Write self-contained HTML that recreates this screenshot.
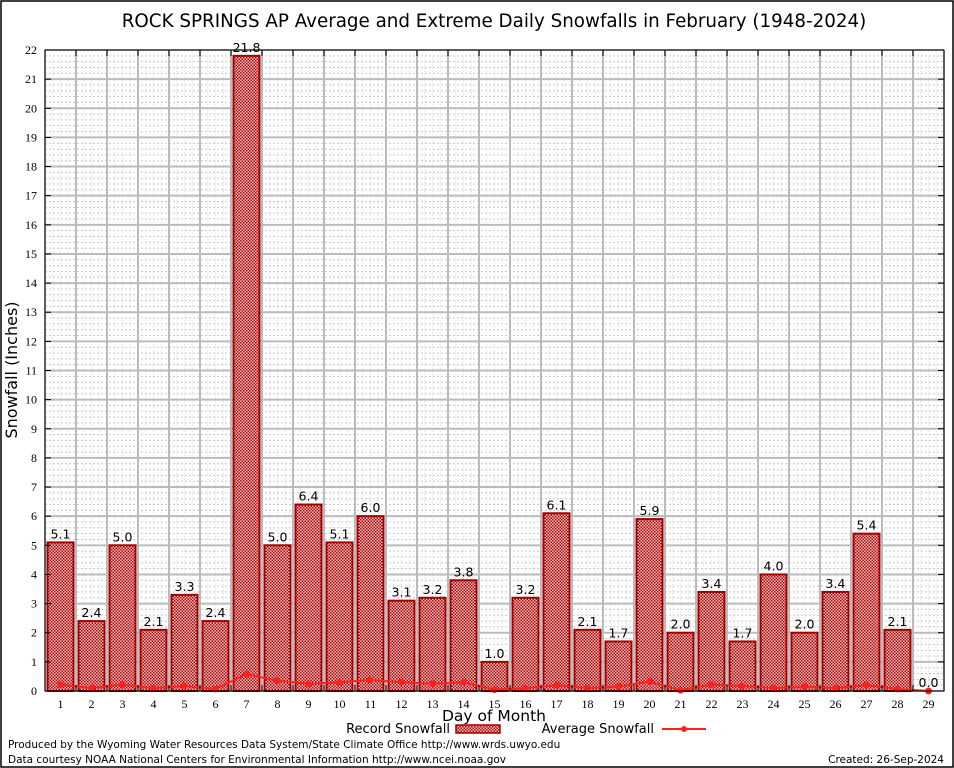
<!DOCTYPE html>
<html><head><meta charset="utf-8"><style>
body{margin:0;background:#fff;}
svg{display:block;font-family:"DejaVu Sans","Liberation Sans",sans-serif;}
</style></head><body>
<svg id="chart" width="954" height="768">
<defs>
<pattern id="chk" width="3" height="3" patternUnits="userSpaceOnUse">
<rect width="3" height="3" fill="#f0c8c8"/>
<rect width="1.5" height="1.5" fill="#b80000"/>
<rect x="1.5" y="1.5" width="1.5" height="1.5" fill="#b80000"/>
</pattern>
</defs>
<rect x="1" y="1" width="952" height="766" fill="#fff" stroke="#000" stroke-width="1.5"/>
<text x="494" y="27" font-size="18.3" text-anchor="middle">ROCK SPRINGS AP Average and Extreme Daily Snowfalls in February (1948-2024)</text>
<g id="grid"></g>
<g id="bars"></g>
<g id="avg"></g>
<rect x="45" y="50" width="899" height="641" fill="none" stroke="#000" stroke-width="1"/>
<g id="axes"></g>
<text x="17" y="370" font-size="16" text-anchor="middle" transform="rotate(-90 17 370)">Snowfall (Inches)</text>
<text x="494" y="721" font-size="15.5" text-anchor="middle">Day of Month</text>
<g>
<text x="450" y="733" font-size="13" text-anchor="end">Record Snowfall</text>
<rect x="456" y="725" width="44" height="8" fill="url(#chk)" stroke="#a00000" stroke-width="1.5"/>
</g>
<g>
<text x="654" y="733" font-size="13" text-anchor="end">Average Snowfall</text>
<line x1="662" y1="729" x2="706" y2="729" stroke="#ff2020" stroke-width="2"/>
<circle cx="684" cy="729" r="3" fill="#ff2020"/>
</g>
<text x="8" y="748" font-size="10.5">Produced by the Wyoming Water Resources Data System/State Climate Office http://www.wrds.uwyo.edu</text>
<text x="8" y="763" font-size="10.5">Data courtesy NOAA National Centers for Environmental Information http://www.ncei.noaa.gov</text>
<text x="944" y="763" font-size="10.5" text-anchor="end">Created: 26-Sep-2024</text>
</svg>
<script>
const days=[1,2,3,4,5,6,7,8,9,10,11,12,13,14,15,16,17,18,19,20,21,22,23,24,25,26,27,28,29];
const records=[5.1,2.4,5.0,2.1,3.3,2.4,21.8,5.0,6.4,5.1,6.0,3.1,3.2,3.8,1.0,3.2,6.1,2.1,1.7,5.9,2.0,3.4,1.7,4.0,2.0,3.4,5.4,2.1,0.0];
const averages=[0.22,0.1,0.22,0.1,0.17,0.07,0.58,0.35,0.25,0.3,0.38,0.3,0.25,0.3,0.05,0.1,0.2,0.1,0.15,0.32,0.03,0.22,0.17,0.1,0.15,0.1,0.2,0.07,0.0];
const yTicks=[0,1,2,3,4,5,6,7,8,9,10,11,12,13,14,15,16,17,18,19,20,21,22];
const NS="http://www.w3.org/2000/svg";
const L=45,R=944,T=50,B=691,YMAX=22;
const step=(R-L)/days.length;
function xs(d){return L+(d-0.5)*step;}
function ys(v){return B-(v/YMAX)*(B-T);}
function mk(tag,attrs,parent){const e=document.createElementNS(NS,tag);for(const k in attrs)e.setAttribute(k,attrs[k]);parent.appendChild(e);return e;}
const grid=document.getElementById('grid'),bars=document.getElementById('bars'),avg=document.getElementById('avg'),axes=document.getElementById('axes');
for(let v=0.2;v<YMAX;v+=0.2){
 mk('line',{x1:L,x2:R,y1:ys(v),y2:ys(v),stroke:'#c8c8c8','stroke-width':1,'stroke-dasharray':'2,2'},grid);
}
for(let i=0;i<days.length;i++){
 for(let f=1;f<4;f++){const x=L+i*step+f*step/4;mk('line',{x1:x,x2:x,y1:T,y2:B,stroke:'#dcdcdc','stroke-width':1,'stroke-dasharray':'1,2'},grid);}
}
yTicks.forEach(v=>{
 const l=mk('line',{x1:L,x2:R,y1:ys(v),y2:ys(v),stroke:'#bbb','stroke-width':2},grid);
 
 
 const t=mk('text',{x:L-8,y:ys(v)+4,'font-size':12,'text-anchor':'end','font-family':'Liberation Serif,serif'},axes);
 t.textContent=v;
 
 
 mk('line',{x1:L,x2:L+6,y1:ys(v),y2:ys(v),stroke:'#000'},axes);
 mk('line',{x1:R,x2:R-6,y1:ys(v),y2:ys(v),stroke:'#000'},axes);
});
for(let i=0;i<=days.length;i++){
 const x=L+i*step;
 mk('line',{x1:x,x2:x,y1:T,y2:B,stroke:'#bbb','stroke-width':2},grid);
 mk('line',{x1:x,x2:x,y1:B,y2:B-6,stroke:'#000'},axes);
 mk('line',{x1:x,x2:x,y1:T,y2:T+6,stroke:'#000'},axes);
}
days.forEach((d,i)=>{
 const v=records[i],x=xs(d),w=26;
 if(v>0){
  const r=mk('rect',{x:x-w/2,y:ys(v),width:w,height:B-ys(v),fill:'url(#chk)',stroke:'#a00000','stroke-width':2},bars);
  
  
 }
 const t=mk('text',{x:x,y:ys(v)-4,'font-size':12.5,'text-anchor':'middle'},bars);
 t.textContent=v.toFixed(1);
 
 
 const xl=mk('text',{x:x,y:B+17,'font-size':12,'text-anchor':'middle','font-family':'Liberation Serif,serif'},axes);
 xl.textContent=d;
 
 
});
const pts=days.map((d,i)=>xs(d)+','+ys(averages[i])).join(' ');
const pl=mk('polyline',{points:pts,fill:'none',stroke:'#ff2020','stroke-width':2},avg);


days.forEach((d,i)=>{
 const c=mk('circle',{cx:xs(d),cy:ys(averages[i]),r:3.5,fill:'#ff2020'},avg);
 
 
});
</script>
</body></html>
